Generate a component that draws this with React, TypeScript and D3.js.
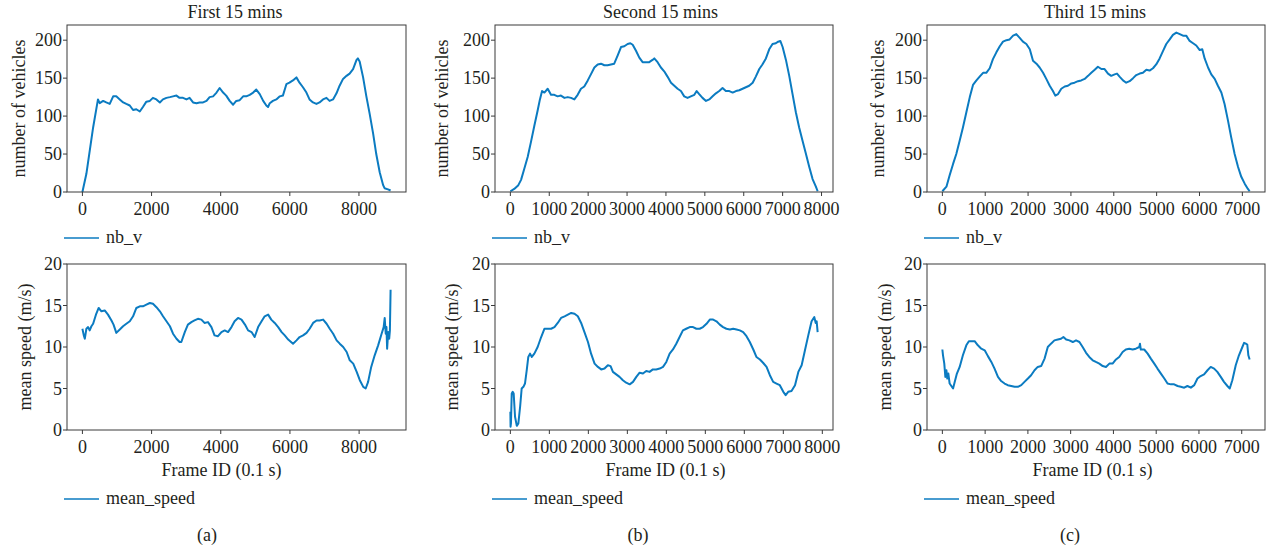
import React from 'react';
import * as d3 from 'd3';

// ---------- DATA (frame id, value) ----------
const firstVehicles: [number, number][] = [
  [0,0],[115,24],[310,85],[450,122],[500,117],[600,120],[690,118],[790,116],[890,126],[980,126],
  [1080,122],[1180,118],[1270,116],[1370,114],[1465,108],[1560,109],[1660,106],[1750,112],[1850,119],[1950,120],
  [2040,124],[2140,122],[2240,118],[2330,122],[2430,124],[2530,125],[2620,126],[2720,127],[2810,124],[2910,124],
  [3010,122],[3100,124],[3200,118],[3300,117],[3390,118],[3490,118],[3590,120],[3680,125],[3780,126],[3880,131],
  [3970,137],[4070,131],[4160,127],[4260,120],[4360,115],[4450,120],[4550,121],[4650,126],[4740,126],[4840,128],
  [4940,131],[5030,135],[5130,129],[5230,120],[5320,114],[5370,112],[5420,117],[5510,120],[5610,122],[5710,126],
  [5800,127],[5900,142],[5990,144],[6090,147],[6190,151],[6280,144],[6380,138],[6480,131],[6570,122],[6670,118],
  [6770,116],[6860,118],[6960,122],[7060,124],[7150,120],[7250,122],[7350,130],[7440,140],[7540,149],[7640,153],
  [7730,156],[7830,162],[7930,174],[7970,176],[8020,172],[8120,151],[8210,127],[8310,103],[8410,77],[8500,50],
  [8600,26],[8700,9],[8740,5],[8840,3.5],[8915,2]
];
const firstSpeed: [number, number][] = [
  [0,12.2],[40,11.4],[70,11.0],[115,12.2],[165,12.4],[210,12.0],[260,12.5],[310,12.8],[400,14.0],[470,14.7],
  [550,14.3],[645,14.4],[740,13.9],[840,13.2],[900,12.7],[980,11.7],[1080,12.1],[1175,12.5],[1270,12.8],[1370,13.1],
  [1465,13.7],[1560,14.7],[1660,14.9],[1750,14.9],[1850,15.1],[1950,15.3],[2040,15.2],[2140,14.8],[2240,14.3],[2330,13.7],
  [2430,13.1],[2530,12.5],[2620,11.6],[2720,11.0],[2810,10.6],[2860,10.6],[2960,11.8],[3050,12.7],[3150,13.0],[3240,13.2],
  [3340,13.4],[3440,13.3],[3530,12.9],[3630,13.0],[3730,12.4],[3820,11.4],[3920,11.3],[4020,11.8],[4115,12.0],[4210,11.8],
  [4310,12.4],[4400,13.1],[4500,13.5],[4600,13.3],[4700,12.7],[4790,12.0],[4890,11.8],[4980,11.2],[5080,12.4],[5180,13.1],
  [5270,13.7],[5370,13.9],[5460,13.3],[5560,12.9],[5660,12.4],[5760,11.8],[5850,11.4],[5950,10.9],[6090,10.4],[6190,10.8],
  [6280,11.2],[6380,11.4],[6480,11.7],[6570,12.2],[6670,12.9],[6770,13.2],[6860,13.2],[6960,13.3],[7060,12.8],[7150,12.2],
  [7250,11.6],[7350,10.8],[7440,10.4],[7540,10.0],[7640,9.4],[7730,8.4],[7830,8.0],[7930,7.0],[8020,6.0],[8120,5.2],
  [8190,5.0],[8260,5.8],[8350,7.6],[8450,9.0],[8550,10.2],[8650,11.6],[8710,12.4],[8740,13.5],[8770,11.6],[8790,12.4],
  [8810,9.8],[8840,11.8],[8870,11.0],[8890,12.0],[8910,16.9]
];
const secondVehicles: [number, number][] = [
  [0,1],[100,4],[205,9],[275,16],[360,31],[445,46],[530,66],[615,87],[700,107],[760,122],
  [815,133],[875,131],[960,136],[1045,128],[1130,128],[1215,126],[1300,127],[1390,124],[1475,125],[1560,124],
  [1645,122],[1730,128],[1815,136],[1900,139],[1990,147],[2070,155],[2160,164],[2245,168],[2330,169],[2415,167],
  [2500,167],[2585,168],[2670,169],[2760,180],[2845,191],[2930,192],[3015,195],[3085,196],[3145,194],[3230,186],
  [3315,177],[3400,171],[3485,171],[3570,171],[3655,174],[3700,176],[3785,171],[3870,164],[3955,159],[4040,152],
  [4130,144],[4215,140],[4300,136],[4385,133],[4470,126],[4555,124],[4640,126],[4730,128],[4790,133],[4855,129],
  [4940,124],[5030,120],[5115,122],[5200,126],[5285,130],[5370,133],[5455,137],[5540,133],[5630,133],[5715,131],
  [5800,133],[5885,134],[5970,136],[6055,138],[6140,140],[6230,144],[6310,152],[6400,162],[6480,168],[6570,176],
  [6655,188],[6740,195],[6825,196],[6885,198],[6940,199],[7000,191],[7085,174],[7170,153],[7255,129],[7340,105],
  [7425,85],[7510,68],[7600,50],[7685,33],[7770,17],[7855,7],[7900,1]
];
const secondSpeed: [number, number][] = [
  [0,2.2],[5,0.4],[15,0.8],[35,4.4],[60,4.6],[85,4.4],[120,1.6],[165,0.5],[205,0.8],[250,2.8],
  [290,5.0],[335,5.2],[375,5.6],[420,7.2],[460,8.8],[505,9.2],[550,8.8],[615,9.2],[700,10.0],[790,11.2],
  [875,12.2],[960,12.2],[1045,12.2],[1130,12.4],[1215,12.9],[1300,13.5],[1390,13.7],[1475,13.9],[1560,14.1],[1645,14.0],
  [1730,13.7],[1815,12.9],[1900,11.8],[1990,10.6],[2070,9.2],[2160,8.0],[2245,7.6],[2330,7.3],[2415,7.4],[2500,7.8],
  [2570,7.7],[2630,7.0],[2715,6.7],[2800,6.4],[2885,6.0],[2970,5.7],[3060,5.5],[3145,5.8],[3230,6.4],[3315,6.9],
  [3400,6.8],[3485,7.1],[3570,7.0],[3655,7.3],[3740,7.3],[3830,7.4],[3915,7.6],[4000,8.2],[4085,9.2],[4170,9.7],
  [4255,10.4],[4340,11.2],[4425,12.0],[4510,12.2],[4600,12.4],[4685,12.4],[4770,12.2],[4855,12.2],[4940,12.4],[5030,12.8],
  [5115,13.3],[5200,13.3],[5285,13.1],[5370,12.7],[5455,12.4],[5540,12.2],[5630,12.1],[5715,12.2],[5800,12.1],[5885,12.0],
  [5970,11.8],[6055,11.3],[6140,10.6],[6230,9.7],[6310,8.8],[6400,8.5],[6480,8.1],[6570,7.6],[6655,6.6],[6740,5.8],
  [6825,5.6],[6910,5.4],[7000,4.6],[7060,4.2],[7125,4.6],[7210,4.7],[7300,5.4],[7385,7.0],[7470,7.8],[7555,9.6],
  [7640,11.4],[7725,13.1],[7795,13.6],[7830,12.9],[7855,13.1],[7880,11.8]
];
const thirdVehicles: [number, number][] = [
  [0,1],[95,7],[170,22],[250,37],[325,50],[405,68],[480,85],[560,105],[640,125],[715,141],
  [795,147],[870,152],[950,157],[1025,157],[1105,163],[1180,175],[1260,184],[1340,192],[1415,198],[1495,200],
  [1570,201],[1650,206],[1725,208],[1805,203],[1880,198],[1960,195],[2040,188],[2115,173],[2195,169],[2270,164],
  [2350,157],[2425,149],[2505,140],[2580,133],[2635,127],[2700,129],[2775,136],[2855,139],[2930,140],[3010,143],
  [3085,144],[3165,146],[3240,147],[3320,149],[3400,153],[3475,157],[3555,161],[3630,165],[3710,162],[3785,162],
  [3865,156],[3940,153],[4020,155],[4075,156],[4135,152],[4215,147],[4290,144],[4370,146],[4450,150],[4525,154],
  [4605,156],[4680,157],[4760,161],[4835,160],[4915,163],[4990,168],[5070,176],[5150,186],[5225,195],[5305,201],
  [5380,207],[5460,210],[5540,208],[5615,206],[5690,206],[5770,199],[5850,196],[5925,193],[6005,187],[6065,188],
  [6120,176],[6200,164],[6275,155],[6355,149],[6430,140],[6510,131],[6585,116],[6665,94],[6740,72],[6820,50],
  [6900,33],[6975,20],[7055,11],[7130,4],[7170,1]
];
const thirdSpeed: [number, number][] = [
  [0,9.7],[15,9.0],[45,8.0],[70,6.4],[95,7.2],[115,6.2],[140,6.8],[170,5.6],[210,5.3],[250,5.0],
  [290,5.8],[340,6.8],[405,7.6],[480,9.0],[560,10.2],[620,10.7],[675,10.7],[755,10.7],[830,10.2],[910,9.8],
  [990,9.6],[1065,8.9],[1145,8.2],[1220,7.4],[1300,6.4],[1375,5.9],[1455,5.6],[1530,5.4],[1610,5.3],[1690,5.2],
  [1765,5.2],[1845,5.4],[1920,5.8],[2000,6.2],[2075,6.6],[2155,7.2],[2230,7.6],[2310,7.7],[2390,8.6],[2465,10.0],
  [2540,10.4],[2620,10.8],[2700,10.9],[2775,11.0],[2830,11.2],[2895,10.9],[2970,10.8],[3050,10.6],[3125,10.8],[3205,10.6],
  [3280,10.0],[3360,9.3],[3435,8.8],[3515,8.4],[3590,8.2],[3670,8.0],[3750,7.7],[3825,7.6],[3905,8.0],[3980,8.0],
  [4060,8.5],[4135,8.8],[4215,9.4],[4290,9.7],[4370,9.8],[4450,9.7],[4525,9.8],[4605,10.0],[4620,10.4],[4640,9.7],
  [4720,9.7],[4800,9.2],[4875,8.6],[4955,8.0],[5030,7.4],[5110,6.8],[5190,6.2],[5265,5.6],[5345,5.5],[5420,5.5],
  [5500,5.3],[5575,5.2],[5655,5.1],[5730,5.3],[5810,5.1],[5890,5.4],[5965,6.2],[6040,6.5],[6120,6.7],[6200,7.2],
  [6275,7.6],[6355,7.4],[6430,7.0],[6510,6.4],[6585,5.8],[6665,5.3],[6720,5.0],[6780,6.0],[6860,7.8],[6935,9.0],
  [7015,10.0],[7055,10.5],[7095,10.4],[7130,10.3],[7155,9.0],[7185,8.5]
];

const titles = ['First 15 mins', 'Second 15 mins', 'Third 15 mins'];
const captions = ['(a)', '(b)', '(c)'];
const xTicksA = [0, 2000, 4000, 6000, 8000];
const xTicksB = [0, 1000, 2000, 3000, 4000, 5000, 6000, 7000, 8000];
const xTicksC = [0, 1000, 2000, 3000, 4000, 5000, 6000, 7000];
const vehicleTicks = [0, 50, 100, 150, 200];
const speedTicks = [0, 5, 10, 15, 20];

// ---------- LAYOUT ----------
const W = 1277, H = 552;
const FONT = '"Liberation Serif", "Times New Roman", serif';
const TXT = '#231f20';
const LINE = '#0b7bc1';
const FS = 18;

const columns = [
  { left: 67, right: 406, ylabTop: 18.5, ylabBot: 25, xlabX: 221.5, titleX: 235, capX: 207, ticks: xTicksA, top: firstVehicles, bot: firstSpeed },
  { left: 495, right: 833, ylabTop: 441.5, ylabBot: 451.5, xlabX: 665.5, titleX: 660.5, capX: 638, ticks: xTicksB, top: secondVehicles, bot: secondSpeed },
  { left: 927, right: 1265, ylabTop: 877.5, ylabBot: 885, xlabX: 1092.5, titleX: 1095, capX: 1070, ticks: xTicksC, top: thirdVehicles, bot: thirdSpeed },
];
const rows = [
  { top: 25, bottom: 192, yMax: 220, yTicks: vehicleTicks, ylabel: 'number of vehicles', legend: 'nb_v', legendY: 238 },
  { top: 264, bottom: 430, yMax: 20, yTicks: speedTicks, ylabel: 'mean speed (m/s)', legend: 'mean_speed', legendY: 499 },
];

function Panel({ col, row, data, ci, ri }: any) {
  const ext = d3.extent(data, (d: [number, number]) => d[0]) as [number, number];
  const pad = (ext[1] - ext[0]) * 0.05;
  const x = d3.scaleLinear().domain([ext[0] - pad, ext[1] + pad]).range([col.left, col.right]);
  const y = d3.scaleLinear().domain([0, row.yMax]).range([row.bottom, row.top]);
  const line = d3.line<[number, number]>().x(d => x(d[0])).y(d => y(d[1]));
  const clipId = `clip-${ci}-${ri}`;
  const ylabX = ri === 0 ? col.ylabTop : col.ylabBot;
  const cy = (row.top + row.bottom) / 2;
  return (
    <g>
      <clipPath id={clipId}>
        <rect x={col.left} y={row.top} width={col.right - col.left} height={row.bottom - row.top} />
      </clipPath>
      <path d={line(data) || ''} fill="none" stroke={LINE} strokeWidth={2} strokeLinejoin="round" clipPath={`url(#${clipId})`} />
      <rect x={col.left} y={row.top} width={col.right - col.left} height={row.bottom - row.top} fill="none" stroke="#3a3a3a" strokeWidth={1} />
      {row.yTicks.map((t: number) => (
        <g key={'y' + t}>
          <line x1={col.left - 4} x2={col.left} y1={y(t)} y2={y(t)} stroke="#3a3a3a" />
          <text x={col.left - 5} y={y(t)} dy="0.35em" textAnchor="end" fontSize={FS} fontFamily={FONT} fill={TXT}>{t}</text>
        </g>
      ))}
      {col.ticks.map((t: number) => (
        <g key={'x' + t}>
          <line x1={x(t)} x2={x(t)} y1={row.bottom} y2={row.bottom + 4} stroke="#3a3a3a" />
          <text x={x(t)} y={row.bottom + 23} textAnchor="middle" fontSize={FS} fontFamily={FONT} fill={TXT}>{t}</text>
        </g>
      ))}
      <text transform={`translate(${ylabX + 6},${cy}) rotate(-90)`} textAnchor="middle" fontSize={FS} fontFamily={FONT} fill={TXT}>{row.ylabel}</text>
      <line x1={col.left - 3} x2={col.left + 32} y1={row.legendY} y2={row.legendY} stroke={LINE} strokeWidth={1.7} />
      <text x={col.left + 39} y={row.legendY + 5} fontSize={FS} fontFamily={FONT} fill={TXT}>{row.legend}</text>
      {ri === 0 && (
        <text x={col.titleX} y={18} textAnchor="middle" fontSize={FS} fontFamily={FONT} fill={TXT}>{titles[ci]}</text>
      )}
      {ri === 1 && (
        <>
          <text x={col.xlabX} y={476} textAnchor="middle" fontSize={FS} fontFamily={FONT} fill={TXT}>Frame ID (0.1 s)</text>
          <text x={col.capX} y={541} textAnchor="middle" fontSize={FS} fontFamily={FONT} fill={TXT}>{captions[ci]}</text>
        </>
      )}
    </g>
  );
}

export default function App() {
  return (
    <svg width={W} height={H} style={{ position: 'absolute', left: 0, top: 0, background: '#fff' }}>
      <rect width={W} height={H} fill="#fff" />
      {columns.map((col, ci) =>
        rows.map((row, ri) => (
          <Panel key={`${ci}-${ri}`} col={col} row={row} ci={ci} ri={ri} data={ri === 0 ? col.top : col.bot} />
        ))
      )}
    </svg>
  );
}
